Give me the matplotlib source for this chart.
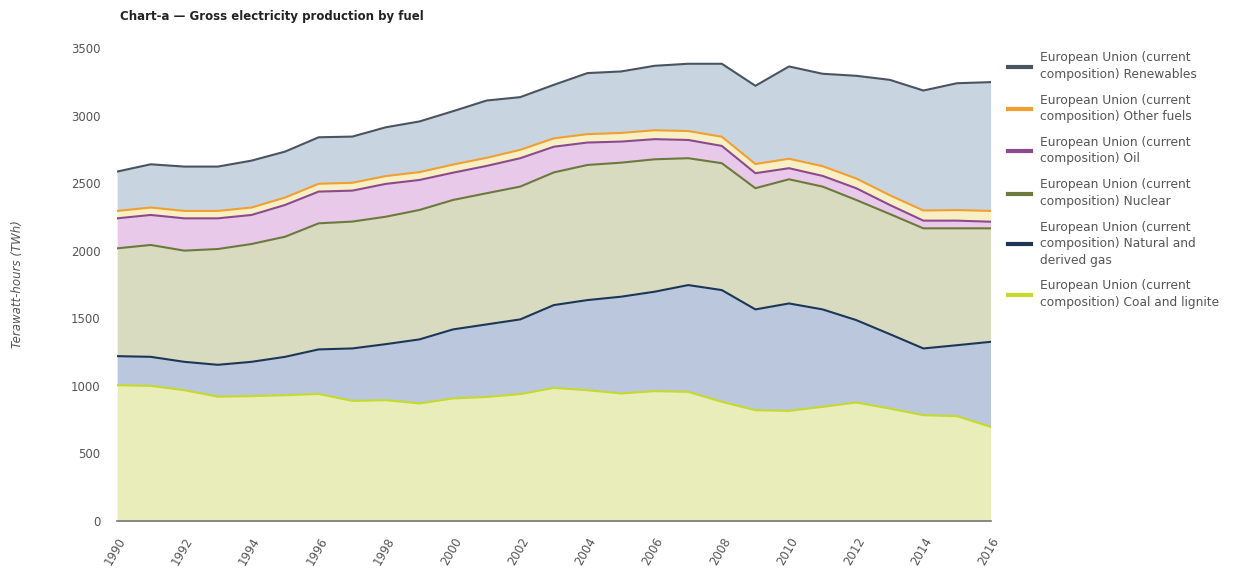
import matplotlib.pyplot as plt
from matplotlib.lines import Line2D
import numpy as np

years = list(range(1990, 2017))

coal = [1005, 1000, 968, 920, 924, 931, 940, 889, 894, 870, 907, 918, 939, 985,
        968, 944, 961, 956, 882, 820, 815, 845, 877, 832, 783, 776, 697]
gas = [215, 215, 210, 236, 254, 284, 330, 388, 415, 474, 511, 537, 553, 613,
       667, 716, 736, 790, 827, 746, 795, 721, 610, 551, 494, 525, 629]
nuclear = [798, 828, 823, 857, 872, 889, 933, 939, 943, 958, 958, 971, 983, 982,
           1000, 992, 980, 939, 939, 897, 919, 909, 889, 889, 889, 865, 840]
oil = [222, 222, 239, 227, 215, 235, 235, 229, 243, 222, 202, 202, 210, 190,
       166, 156, 149, 135, 128, 111, 82, 79, 87, 67, 57, 57, 49]
other = [55, 55, 55, 55, 55, 55, 58, 58, 58, 58, 60, 60, 62, 62,
         62, 64, 66, 66, 68, 68, 70, 72, 72, 72, 75, 78, 80]
renewables = [291, 320, 328, 328, 347, 340, 344, 342, 361, 375, 395, 424, 390, 396,
              452, 455, 477, 498, 540, 579, 683, 684, 760, 854, 888, 939, 953]

prefix = 'European Union (current\ncomposition) '
series = [
    ('Coal and lignite', coal, '#e9edb9', '#c5da2c'),
    ('Natural and\nderived gas', gas, '#bac7dc', '#1d3657'),
    ('Nuclear', nuclear, '#d8dbc0', '#6b7a3c'),
    ('Oil', oil, '#e9c9e9', '#8b4a8e'),
    ('Other fuels', other, '#f8efc4', '#f0a030'),
    ('Renewables', renewables, '#c9d4e1', '#4a545e'),
]

fig = plt.figure(figsize=(12.46, 5.76), dpi=100)
ax = fig.add_axes([0.094, 0.0955, 0.701, 0.821])

base = np.zeros(len(years))
handles = []
for name, vals, fill, line in series:
    top = base + np.array(vals)
    ax.fill_between(years, base, top, color=fill, linewidth=0)
    ax.plot(years, top, color=line, linewidth=1.5)
    handles.append(Line2D([], [], color=line, linewidth=3, label=prefix + name))
    base = top

ax.set_xlim(1990, 2016)
ax.set_ylim(0, 3500)
ax.set_xticks(range(1990, 2017, 2))
ax.set_yticks(range(0, 3501, 500))
ax.tick_params(length=0, colors='#555555', labelsize=8.5)
ax.tick_params(axis='y', pad=12)
ax.tick_params(axis='x', pad=10)
for lab in ax.get_xticklabels():
    lab.set_rotation(60)
    lab.set_ha('right')
    lab.set_rotation_mode('anchor')
for side in ('top', 'right', 'left'):
    ax.spines[side].set_visible(False)
ax.spines['bottom'].set_color('#777777')
ax.spines['bottom'].set_linewidth(1.2)

ax.set_ylabel('Terawatt-hours (TWh)', fontsize=8.5, style='italic', color='#555555', labelpad=34)

fig.text(0.096, 0.972, 'Chart-a \u2014 Gross electricity production by fuel',
         fontsize=8.5, fontweight='bold', color='#222222', va='center')

leg = fig.legend(handles=handles[::-1], loc='upper left', bbox_to_anchor=(0.8, 0.93),
                 frameon=False, fontsize=8.8, handlelength=1.9, handletextpad=0.7,
                 labelspacing=1.05, labelcolor='#555555')
for t in leg.get_texts():
    t.set_linespacing(1.35)

fig.savefig('out.png', dpi=100)
